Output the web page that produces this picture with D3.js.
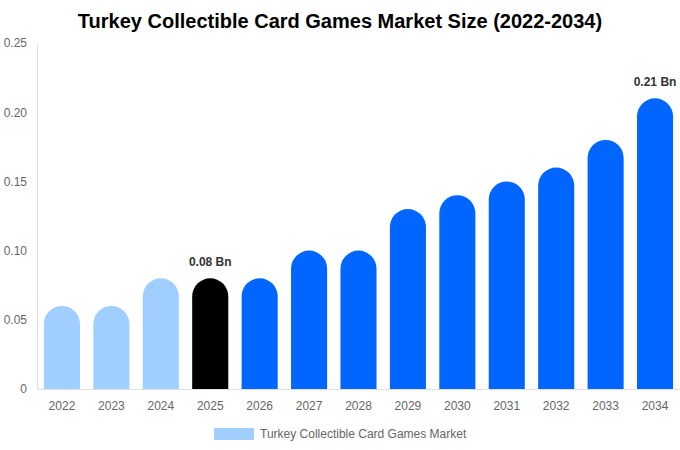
<!DOCTYPE html>
<html>
<head>
<meta charset="utf-8">
<script src="https://cdn.jsdelivr.net/npm/d3@7"></script>
<style>
  body { margin: 0; background: #fff; font-family: "Liberation Sans", Arial, sans-serif; }
</style>
</head>
<body>
<div id="chart"></div>
<script>
// Data
const years = ["2022", "2023", "2024", "2025", "2026", "2027", "2028", "2029", "2030", "2031", "2032", "2033", "2034"];
const values = [0.06, 0.06, 0.08, 0.08, 0.08, 0.10, 0.10, 0.13, 0.14, 0.15, 0.16, 0.18, 0.21];
const yTicks = [0, 0.05, 0.10, 0.15, 0.20, 0.25];
const labelYears = ["2025", "2034"];

const W = 680, H = 450;
const margin = {top: 43, right: 0, bottom: 61, left: 37};
const width = W - margin.left - margin.right,
      height = H - margin.top - margin.bottom;

const svg = d3.select("#chart")
    .append("svg")
    .attr("width", W)
    .attr("height", H);

// Title
svg.append("text")
    .attr("x", W / 2)
    .attr("y", 28)
    .attr("text-anchor", "middle")
    .style("font-size", "20px")
    .style("font-weight", "bold")
    .attr("fill", "#000")
    .text("Turkey Collectible Card Games Market Size (2022-2034)");

const g = svg.append("g")
    .attr("transform", `translate(${margin.left}, ${margin.top})`);

// Scales
const xScale = d3.scaleBand().domain(years).range([0, width]).paddingInner(0.27).paddingOuter(0.14);
const yScale = d3.scaleLinear().domain([0, 0.25]).range([height, 0]);

// Bar colour: history light blue, current year black, forecast blue
function barColor(year) {
    if (+year < 2025) return "#a0cfff";
    if (+year === 2025) return "#000000";
    return "#0066ff";
}

// Bars with rounded tops
const bw = xScale.bandwidth();
const r = bw / 2;
g.selectAll(".bar")
    .data(years)
    .enter()
    .append("path")
    .attr("class", "bar")
    .attr("fill", d => barColor(d))
    .attr("d", (d, i) => {
        const x0 = xScale(d), x1 = x0 + bw;
        const yTop = yScale(values[i]), yBase = yScale(0);
        return `M${x0},${yBase} L${x0},${yTop + r} A${r},${r} 0 0 1 ${x1},${yTop + r} L${x1},${yBase} Z`;
    });

// Axes
const yAxis = g.append("g")
    .call(d3.axisLeft(yScale).tickValues(yTicks).tickSize(0).tickPadding(10)
        .tickFormat(d => d === 0 ? "0" : d3.format(".2f")(d)));
yAxis.select(".domain").attr("stroke", "#e0e0e0");
yAxis.selectAll("text").attr("fill", "#666").style("font-size", "12px")
    .style("font-family", "Liberation Sans, Arial, sans-serif");

const xAxis = g.append("g")
    .attr("transform", `translate(0,${height})`)
    .call(d3.axisBottom(xScale).tickSize(0).tickPadding(12));
xAxis.select(".domain").attr("stroke", "#e0e0e0");
xAxis.selectAll("text").attr("fill", "#666").style("font-size", "12px")
    .style("font-family", "Liberation Sans, Arial, sans-serif");

// Value labels
g.selectAll(".label")
    .data(years.filter(y => labelYears.includes(y)))
    .enter()
    .append("text")
    .attr("class", "label")
    .attr("x", d => xScale(d) + bw / 2)
    .attr("y", d => yScale(values[years.indexOf(d)]) - 12)
    .attr("text-anchor", "middle")
    .attr("fill", "#333")
    .style("font-size", "12px")
    .style("font-weight", "bold")
    .text(d => values[years.indexOf(d)].toFixed(2) + " Bn");

// Legend
const legend = svg.append("g").attr("transform", "translate(214, 428)");
legend.append("rect")
    .attr("width", 40)
    .attr("height", 12)
    .attr("fill", "#a0cfff");
legend.append("text")
    .attr("x", 46)
    .attr("y", 10)
    .attr("fill", "#666")
    .style("font-size", "12px")
    .text("Turkey Collectible Card Games Market");
</script>
</body>
</html>
